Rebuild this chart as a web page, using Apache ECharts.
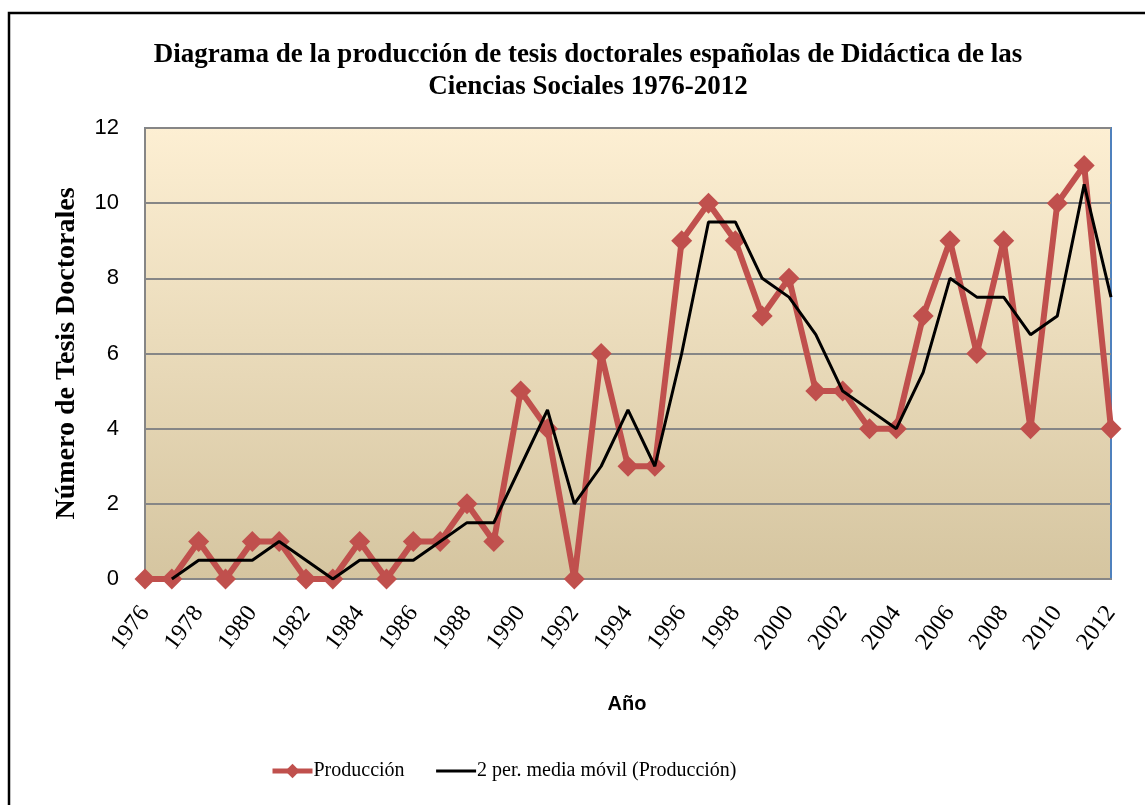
<!DOCTYPE html>
<html>
<head>
<meta charset="utf-8">
<script src="https://cdn.jsdelivr.net/npm/echarts@6/dist/echarts.min.js"></script>
<style>
  html, body { margin: 0; padding: 0; background: #fff; }
  #chart { width: 1145px; height: 805px; }
</style>
</head>
<body>
<div id="chart"></div>
<script>
// años 1976-2012
const years = [
  "1976", "1977", "1978", "1979", "1980", "1981", "1982", "1983", "1984", "1985",
  "1986", "1987", "1988", "1989", "1990", "1991", "1992", "1993", "1994", "1995",
  "1996", "1997", "1998", "1999", "2000", "2001", "2002", "2003", "2004", "2005",
  "2006", "2007", "2008", "2009", "2010", "2011", "2012"
];
// número de tesis por año
const produccion = [
  0, 0, 1, 0, 1, 1, 0, 0, 1, 0,
  1, 1, 2, 1, 5, 4, 0, 6, 3, 3,
  9, 10, 9, 7, 8, 5, 5, 4, 4, 7,
  9, 6, 9, 4, 10, 11, 4
];
// media móvil de 2 periodos
const mediaMovil = [
  null, 0, 0.5, 0.5, 0.5, 1, 0.5, 0, 0.5, 0.5,
  0.5, 1, 1.5, 1.5, 3, 4.5, 2, 3, 4.5, 3,
  6, 9.5, 9.5, 8, 7.5, 6.5, 5, 4.5, 4, 5.5,
  8, 7.5, 7.5, 6.5, 7, 10.5, 7.5
];
const yTicks = [0, 2, 4, 6, 8, 10, 12];

const chart = echarts.init(document.getElementById("chart"));

const gridLeft = 145, gridTop = 128, gridRight = 1145 - 1111, gridBottom = 805 - 579;

const option = {
  animation: false,
  title: {
    text: "Diagrama de la producción de tesis doctorales españolas de Didáctica de las\nCiencias Sociales 1976-2012",
    left: 583,
    top: 34,
    textAlign: "center",
    textStyle: {
      fontFamily: "Liberation Serif",
      fontWeight: "bold",
      fontSize: 27,
      lineHeight: 32,
      color: "#000"
    }
  },
  graphic: [
    {
      type: "rect",
      shape: { x: 9, y: 13, width: 1150, height: 800 },
      style: { fill: "none", stroke: "#000", lineWidth: 2.5 },
      silent: true,
      z: -10
    },
    {
      type: "rect",
      shape: { x: gridLeft, y: gridTop, width: 1111 - gridLeft, height: 579 - gridTop },
      style: {
        fill: new echarts.graphic.LinearGradient(0, 0, 0, 1, [
          { offset: 0, color: "#fdefd3" },
          { offset: 1, color: "#d5c5a0" }
        ]),
        stroke: "#4f81bd",
        lineWidth: 2
      },
      silent: true,
      z: -5
    },
    {
      type: "text",
      x: 627,
      y: 704,
      style: {
        text: "Año",
        fontFamily: "Liberation Sans",
        fontWeight: "bold",
        fontSize: 20,
        fill: "#000",
        align: "center",
        verticalAlign: "middle"
      }
    }
  ],
  legend: {
    bottom: 19,
    left: 265,
    itemWidth: 40,
    itemHeight: 18,
    itemGap: 30,
    textStyle: {
      fontFamily: "Liberation Serif",
      fontSize: 20,
      color: "#000",
      padding: [0, 0, 0, -4]
    },
    data: [
      { name: "Producción", lineStyle: { width: 5 } },
      { name: "2 per. media móvil (Producción)", itemStyle: { opacity: 0 }, lineStyle: { width: 3 } }
    ]
  },
  grid: {
    left: gridLeft,
    top: gridTop,
    right: gridRight,
    bottom: gridBottom,
    containLabel: false
  },
  xAxis: {
    type: "category",
    data: years,
    boundaryGap: false,
    axisLine: { lineStyle: { color: "#868686", width: 2 } },
    axisTick: { show: false },
    axisLabel: {
      interval: 1,
      rotate: 53,
      margin: 30,
      fontFamily: "Liberation Serif",
      fontSize: 24,
      color: "#000"
    },
    splitLine: { show: false }
  },
  yAxis: {
    type: "value",
    min: 0,
    max: 12,
    interval: 2,
    name: "Número de Tesis Doctorales",
    nameLocation: "middle",
    nameGap: 64,
    nameTextStyle: {
      fontFamily: "Liberation Serif",
      fontWeight: "bold",
      fontSize: 28,
      color: "#000"
    },
    axisLine: { show: true, lineStyle: { color: "#868686", width: 2 } },
    axisTick: { show: false },
    axisLabel: {
      margin: 26,
      fontFamily: "Liberation Sans",
      fontSize: 22,
      color: "#000",
      formatter: (v) => (yTicks.includes(v) ? String(v) : "")
    },
    splitLine: { lineStyle: { color: "#868686", width: 2 } }
  },
  series: [
    {
      name: "Producción",
      type: "line",
      data: produccion,
      symbol: "diamond",
      symbolSize: 21,
      showAllSymbol: true,
      lineStyle: { color: "#c0504d", width: 6 },
      itemStyle: { color: "#c0504d" },
      z: 2
    },
    {
      name: "2 per. media móvil (Producción)",
      type: "line",
      data: mediaMovil,
      symbol: "none",
      lineStyle: { color: "#000", width: 3 },
      itemStyle: { color: "#000" },
      z: 3
    }
  ]
};

chart.setOption(option);
</script>
</body>
</html>
